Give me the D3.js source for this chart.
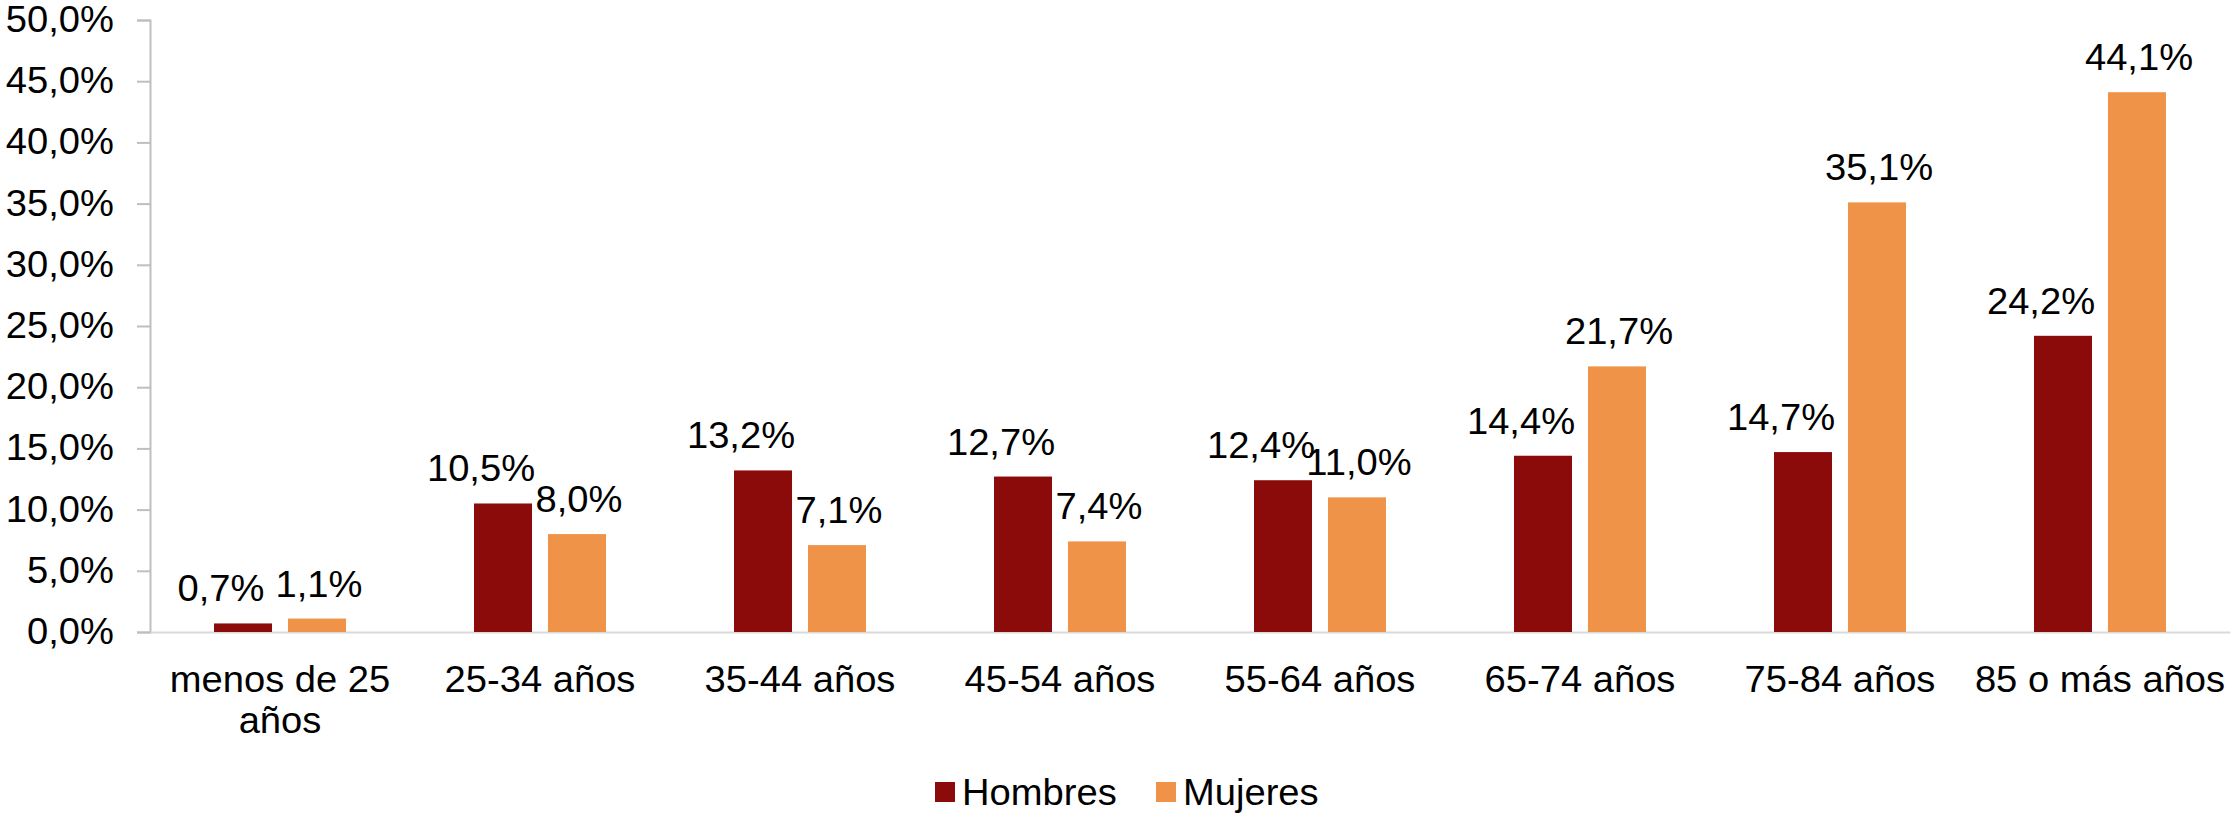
<!DOCTYPE html>
<html>
<head>
<meta charset="utf-8">
<script src="https://cdn.jsdelivr.net/npm/d3@7"></script>
<style>
  body { margin: 0; background: #fff; }
  text { font-family: "Liberation Sans", Arial, sans-serif; fill: #000; }
</style>
</head>
<body>
<script>
const categories = ["menos de 25 años", "25-34 años", "35-44 años", "45-54 años", "55-64 años", "65-74 años", "75-84 años", "85 o más años"];
const series = ["Hombres", "Mujeres"];
const hombres = [0.7, 10.5, 13.2, 12.7, 12.4, 14.4, 14.7, 24.2];
const mujeres = [1.1, 8.0, 7.1, 7.4, 11.0, 21.7, 35.1, 44.1];
const yTicks = [0, 5, 10, 15, 20, 25, 30, 35, 40, 45, 50];
const colors = ["#8b0b0b", "#ee9348"];

const W = 2231, H = 818;
const margin = { top: 20, right: 1, bottom: 186, left: 150 };
const SX = 1.06; // text in the source is slightly stretched horizontally

const fmt = v => d3.format(".1f")(v).replace(".", ",") + "%";

const svg = d3.select("body").append("svg").attr("width", W).attr("height", H);

// place a text at (x, y) with horizontal stretch
function stretched(sel, x, y) {
  return sel.attr("transform", `translate(${x},${y}) scale(${SX},1)`);
}

const x0 = d3.scaleBand()
  .domain(categories)
  .range([margin.left, W - margin.right])
  .paddingInner(0.4923)
  .paddingOuter(0.2462);

const x1 = d3.scaleBand()
  .domain(series)
  .range([0, x0.bandwidth()])
  .paddingInner(0.216);

const y = d3.scaleLinear()
  .domain([0, 50])
  .range([H - margin.bottom, margin.top]);

// y axis
const yAxis = d3.axisLeft(y).tickValues(yTicks).tickFormat(fmt).tickSize(13).tickPadding(21);
const gy = svg.append("g").attr("transform", `translate(${margin.left},0)`).call(yAxis);
gy.select(".domain").attr("stroke", "#bfbfbf").attr("stroke-width", 2);
gy.selectAll(".tick line").attr("stroke", "#bfbfbf").attr("stroke-width", 2);
gy.selectAll(".tick text").attr("font-size", 36).attr("fill", "#000")
  .attr("transform", `scale(${SX},1)`)
  .style("font-family", '"Liberation Sans", Arial, sans-serif');

// x axis
const gx = svg.append("g").attr("transform", `translate(0,${y(0)})`)
  .call(d3.axisBottom(x0).tickSize(0).tickPadding(0));
gx.select(".domain").attr("stroke", "#d9d9d9").attr("stroke-width", 2);
gx.selectAll(".tick text").remove();

// category labels (wrapped)
const catG = svg.append("g");
categories.forEach(c => {
  const cx = x0(c) + x0.bandwidth() / 2;
  const lines = c === "menos de 25 años" ? ["menos de 25", "años"] : [c];
  const t = stretched(catG.append("text"), cx, y(0) + 60)
    .attr("text-anchor", "middle").attr("font-size", 36);
  lines.forEach((l, i) => t.append("tspan").attr("x", 0).attr("dy", i ? 41 : 0).text(l));
});

// bars
const data = categories.map((c, i) => ({ cat: c, vals: [hombres[i], mujeres[i]] }));
const groups = svg.append("g").selectAll("g").data(data).join("g")
  .attr("transform", d => `translate(${x0(d.cat)},0)`);

groups.selectAll("rect")
  .data(d => d.vals.map((v, i) => ({ s: series[i], v, i })))
  .join("rect")
  .attr("x", d => x1(d.s))
  .attr("width", x1.bandwidth())
  .attr("y", d => y(d.v))
  .attr("height", d => y(0) - y(d.v))
  .attr("fill", d => colors[d.i]);

groups.selectAll("text.lbl")
  .data(d => d.vals.map((v, i) => ({ s: series[i], v, i })))
  .join("text")
  .attr("class", "lbl")
  .attr("transform", d => `translate(${x1(d.s) + x1.bandwidth() / 2 + (d.i === 0 ? -22 : 2)},${y(d.v) - 22}) scale(${SX},1)`)
  .attr("text-anchor", "middle")
  .attr("font-size", 36)
  .text(d => fmt(d.v));

// legend
const legend = svg.append("g").attr("transform", "translate(935,782)");
const legX = [0, 221];
series.forEach((s, i) => {
  const g = legend.append("g").attr("transform", `translate(${legX[i]},0)`);
  g.append("rect").attr("width", 20).attr("height", 20).attr("fill", colors[i]);
  stretched(g.append("text"), 27, 23).attr("font-size", 36).text(s);
});
</script>
</body>
</html>
